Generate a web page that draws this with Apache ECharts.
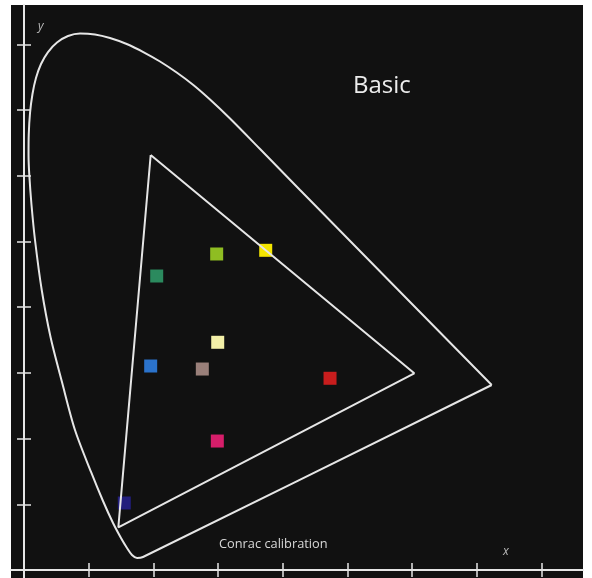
<!DOCTYPE html>
<html>
<head>
<meta charset="utf-8">
<script src="https://cdn.jsdelivr.net/npm/echarts@6/dist/echarts.min.js"></script>
<style>
  html, body { margin: 0; padding: 0; background: #ffffff; }
  #chart { width: 592px; height: 578px; }
</style>
</head>
<body>
<div id="chart"></div>
<script>
// Spectral locus of the CIE 1931 chromaticity diagram (x, y), closed by the line of purples
const locusX = [0.7229, 0.4266, 0.3648, 0.3184, 0.2875, 0.2617, 0.2360, 0.2102, 0.1844, 0.1587,
  0.1329, 0.1097, 0.0866, 0.0680, 0.0510, 0.0371, 0.0263, 0.0185, 0.0131, 0.0093,
  0.0073, 0.0070, 0.0082, 0.0116, 0.0170, 0.0274, 0.0410, 0.0587, 0.0788, 0.1036,
  0.1221, 0.1376, 0.1499, 0.1592, 0.1669, 0.1747, 0.1839, 0.7229];
const locusY = [0.2816, 0.5784, 0.6408, 0.6872, 0.7161, 0.7382, 0.7572, 0.7740, 0.7884, 0.8006,
  0.8097, 0.8151, 0.8166, 0.8128, 0.8029, 0.7884, 0.7702, 0.7489, 0.7245, 0.6956,
  0.6621, 0.6317, 0.6012, 0.5556, 0.5023, 0.4262, 0.3546, 0.2861, 0.2131, 0.1492,
  0.1050, 0.0715, 0.0487, 0.0335, 0.0228, 0.0183, 0.0198, 0.2816];

// Monitor phosphor gamut (green, red, blue primaries)
const gamutX = [0.1958, 0.6032, 0.1458, 0.1958];
const gamutY = [0.6317, 0.2994, 0.0650, 0.6317];

// Measured colour samples
const sampleNames = ['lime', 'yellow', 'green', 'cream', 'blue', 'grey', 'red', 'magenta', 'navy'];
const sampleX = [0.2978, 0.3736, 0.2051, 0.2994, 0.1958, 0.2756, 0.4730, 0.2988, 0.1550];
const sampleY = [0.4810, 0.4866, 0.4475, 0.3466, 0.3105, 0.3059, 0.2918, 0.1963, 0.1020];
const sampleColors = ['#8fbd22', '#f4e600', '#2b8a5e', '#f3f0a8', '#2b73cc', '#9a807a', '#c81d1d', '#d61e6a', '#221e7c'];

// Tick positions on both axes
const tickValues = [0.1, 0.2, 0.3, 0.4, 0.5, 0.6, 0.7, 0.8];

const zip = (xs, ys) => xs.map((v, i) => [v, ys[i]]);

const ink = '#e6e6e6';
const font = '"Open Sans", "Noto Sans", sans-serif';

// Each axis is drawn twice so that the tick marks cross the axis line
function axisPair(dim, range) {
  const base = {
    type: 'value',
    min: range[0],
    max: range[1],
    splitLine: { show: false },
    axisLabel: { show: false },
    axisPointer: { show: false }
  };
  const pos = dim === 'x' ? 'bottom' : 'left';
  return [
    Object.assign({}, base, {
      position: pos,
      axisLine: { show: true, onZero: true, onZeroAxisIndex: 0, lineStyle: { color: ink, width: 2 } },
      axisTick: { show: true, inside: false, length: 7, customValues: tickValues, lineStyle: { color: ink, width: 1.5 } }
    }),
    Object.assign({}, base, {
      position: pos,
      axisLine: { show: false, onZero: true, onZeroAxisIndex: 0 },
      axisTick: { show: true, inside: true, length: 7, customValues: tickValues, lineStyle: { color: ink, width: 1.5 } }
    })
  ];
}

const chart = echarts.init(document.getElementById('chart'), null, { renderer: 'canvas' });

chart.setOption({
  animation: false,
  backgroundColor: '#ffffff',
  grid: {
    left: 11, right: 9, top: 5, bottom: 0,
    show: true, backgroundColor: '#111111', borderWidth: 0
  },
  xAxis: axisPair('x', [-0.0201, 0.864]),
  yAxis: axisPair('y', [-0.01218, 0.86]),
  series: [
    {
      name: 'Spectral locus',
      type: 'line',
      data: zip(locusX, locusY),
      smooth: 0.3,
      showSymbol: false,
      symbol: 'none',
      lineStyle: { color: ink, width: 2 },
      silent: true
    },
    {
      name: 'Conrac gamut',
      type: 'line',
      data: zip(gamutX, gamutY),
      showSymbol: false,
      symbol: 'none',
      lineStyle: { color: ink, width: 2 },
      silent: true
    },
    {
      name: 'Samples',
      type: 'scatter',
      symbol: 'rect',
      symbolSize: 13,
      itemStyle: { opacity: 1 },
      data: sampleX.map((x, i) => ({
        name: sampleNames[i],
        value: [x, sampleY[i]],
        itemStyle: { color: sampleColors[i], opacity: 1 }
      })),
      silent: true
    }
  ],
  graphic: [
    { type: 'text', left: 353, top: 74, style: { text: 'Basic', fill: '#ececec', font: '24px ' + font } },
    { type: 'text', left: 219, top: 538, style: { text: 'Conrac calibration', fill: '#d8d8d8', font: '12.8px ' + font } },
    { type: 'text', left: 38, top: 21, style: { text: 'y', fill: '#bdbdbd', font: 'italic 12px ' + font } },
    { type: 'text', left: 503, top: 546, style: { text: 'x', fill: '#bdbdbd', font: 'italic 12px ' + font } }
  ]
});
</script>
</body>
</html>
